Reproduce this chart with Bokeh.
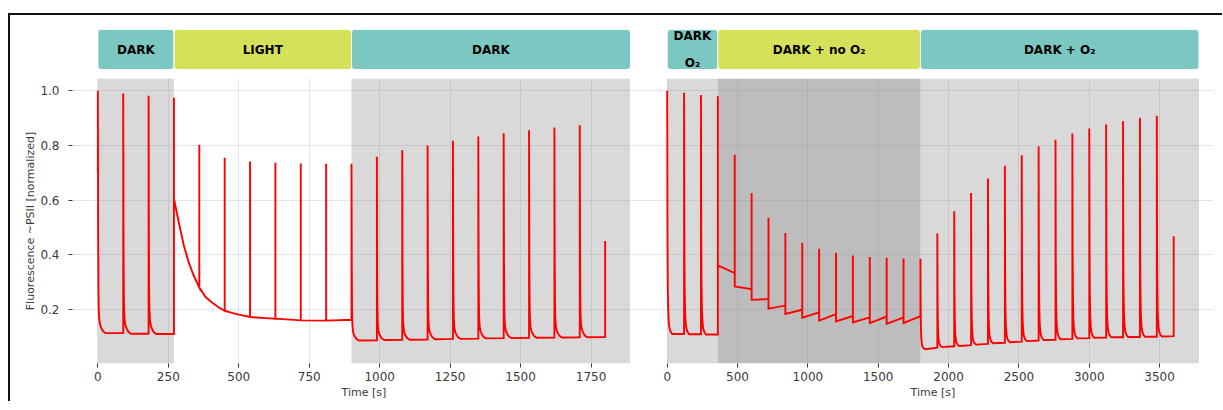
from bokeh.plotting import figure
from bokeh.layouts import row, column
from bokeh.models import Range1d, FixedTicker, ColumnDataSource, Title, PrintfTickFormatter
from bokeh.embed import file_html
from bokeh.resources import INLINE
from bokeh.core.properties import value

# ---------------- data: left panel (dark / light / dark) ----------------
pulse_t_L = [0, 90, 180, 270, 360, 450, 540, 630, 720, 810, 900, 990, 1080,
             1170, 1260, 1350, 1440, 1530, 1620, 1710, 1800]
peak_L = [1.000, 0.990, 0.982, 0.975, 0.803, 0.755, 0.741, 0.737, 0.734, 0.733,
          0.733, 0.759, 0.782, 0.800, 0.817, 0.833, 0.845, 0.856, 0.866, 0.874, 0.450]
pre_L = [0.700, 0.113, 0.111, 0.110, 0.280, 0.195, 0.172, 0.166, 0.160, 0.159,
         0.162, 0.087, 0.089, 0.090, 0.092, 0.093, 0.095, 0.096, 0.097, 0.098, 0.099]
post_L = [0.113, 0.111, 0.110, 0.605, 0.280, 0.195, 0.172, 0.166, 0.160, 0.159,
          0.086, 0.088, 0.089, 0.091, 0.092, 0.094, 0.095, 0.096, 0.097, 0.098, None]
kind_L = ["dark", "dark", "dark", "step", "step", "step", "step", "step", "step", "step",
          "dark", "dark", "dark", "dark", "dark", "dark", "dark", "dark", "dark", "dark", "end"]
light_curve_t = [287, 305, 322, 340, 382, 405, 429, 476, 500, 595]
light_curve_v = [0.519, 0.434, 0.373, 0.324, 0.245, 0.225, 0.207, 0.187, 0.181, 0.168]
decay_dt_L = [0, 1, 2, 3, 5, 8, 12, 18, 27]
decay_frac_L = [1, 0.40, 0.18, 0.10, 0.055, 0.035, 0.022, 0.008, 0]

regions_L_start = [0, 270, 900]
regions_L_end = [270, 900, 1890]
regions_L_label = ["DARK", "LIGHT", "DARK"]
xticks_L = [0, 250, 500, 750, 1000, 1250, 1500, 1750]

# ---------------- data: right panel (O2 experiment) ----------------
pulse_t_R = [0, 120, 240, 360, 480, 600, 720, 840, 960, 1080, 1200, 1320, 1440, 1560,
             1680, 1800, 1920, 2040, 2160, 2280, 2400, 2520, 2640, 2760, 2880, 3000,
             3120, 3240, 3360, 3480, 3600]
peak_R = [1.000, 0.993, 0.985, 0.980, 0.766, 0.626, 0.535, 0.480, 0.444, 0.422, 0.407,
          0.397, 0.392, 0.389, 0.386, 0.385, 0.478, 0.559, 0.626, 0.679, 0.726, 0.764,
          0.797, 0.821, 0.844, 0.862, 0.877, 0.889, 0.901, 0.909, 0.468]
pre_R = [1.000, 0.110, 0.109, 0.108, 0.333, 0.274, 0.238, 0.214, 0.199, 0.189, 0.183,
         0.176, 0.171, 0.174, 0.171, 0.175, 0.060, 0.065, 0.069, 0.074, 0.078, 0.082,
         0.086, 0.089, 0.092, 0.095, 0.097, 0.098, 0.099, 0.100, 0.102]
post_R = [0.110, 0.109, 0.108, 0.361, 0.284, 0.235, 0.203, 0.183, 0.170, 0.159, 0.156,
          0.152, 0.150, 0.147, 0.150, 0.054, 0.062, 0.066, 0.071, 0.076, 0.080, 0.084,
          0.088, 0.091, 0.094, 0.096, 0.098, 0.099, 0.100, 0.101, None]
kind_R = ["dark", "dark", "dark"] + ["step"] * 12 + ["dark"] * 15 + ["end"]
decay_dt_R = [0, 2, 4, 7, 11, 16, 24, 36]
decay_frac_R = [1, 0.40, 0.20, 0.10, 0.05, 0.025, 0.01, 0]

regions_R_start = [0, 360, 1800]
regions_R_end = [360, 1800, 3780]
regions_R_label = ["DARK\nO\u2082", "DARK + no O\u2082", "DARK + O\u2082"]
xticks_R = [0, 500, 1000, 1500, 2000, 2500, 3000, 3500]

yticks = [0.2, 0.4, 0.6, 0.8, 1.0]

# ---------------- styles ----------------
TEAL = "#7bc8c2"
YELLOW = "#d6e15a"
header_colors_L = [TEAL, YELLOW, TEAL]
header_colors_R = [TEAL, YELLOW, TEAL]
shade_alpha_L = [0.3, 0.0, 0.3]
shade_alpha_R = [0.3, 0.52, 0.3]
GRID = "#e4e4ee"
TXT = "#3a3a3a"
FONT = "DejaVu Sans"
Y0, Y1 = 0.002, 1.045


def build_trace(pt, pk, pre, post, kind, ddt, dfrac, extra_t=(), extra_v=()):
    xs, ys = [], []
    n = len(pt)
    for i in range(n):
        t = pt[i]
        xs += [t, t]
        ys += [pre[i], pk[i]]
        if kind[i] == "dark":
            for dt, f in zip(ddt[1:], dfrac[1:]):
                xs.append(t + dt)
                ys.append(post[i] + (pk[i] - post[i]) * f)
        elif kind[i] == "step":
            xs.append(t)
            ys.append(post[i])
        if i + 1 < n:
            for et, ev in zip(extra_t, extra_v):
                if t < et < pt[i + 1]:
                    xs.append(et)
                    ys.append(ev)
    return xs, ys


def make_header(width, x_range, min_left, min_right, starts, ends, labels, colors):
    h = figure(width=width, height=54, x_range=x_range, y_range=Range1d(0, 1),
               output_backend="svg", toolbar_location=None,
               min_border_left=min_left, min_border_right=min_right,
               min_border_top=14, min_border_bottom=0,
               x_axis_location=None, y_axis_location=None)
    h.outline_line_color = None
    h.grid.visible = False
    h.background_fill_color = "white"
    h.border_fill_color = "white"
    src = ColumnDataSource(dict(left=starts, right=ends, color=colors, label=labels,
                                mid=[(a + b) / 2 for a, b in zip(starts, ends)]))
    h.quad(left="left", right="right", bottom=0, top=1, fill_color="color",
           line_color="white", line_width=1, border_radius=3, source=src)
    h.text(x="mid", y=0.5, text="label", source=src, text_align="center",
           text_baseline="middle", text_font=value(FONT), text_font_style="bold",
           text_font_size="12px", text_color="black", text_line_height=1.95)
    return h


def make_panel(width, x_range, min_left, min_right, starts, ends, salpha, xticks,
               trace_xy, show_y, title_offset):
    p = figure(width=width, height=332, x_range=x_range, y_range=Range1d(Y0, Y1),
               output_backend="svg", toolbar_location=None,
               min_border_left=min_left, min_border_right=min_right,
               min_border_top=9, min_border_bottom=38,
               y_axis_location="left" if show_y else None)
    p.outline_line_color = None
    p.background_fill_color = "white"
    p.border_fill_color = "white"
    p.xgrid.ticker = FixedTicker(ticks=xticks)
    p.ygrid.ticker = FixedTicker(ticks=yticks)
    p.grid.grid_line_color = GRID
    p.grid.grid_line_width = 1

    # shaded condition regions (drawn over the grid, like translucent spans)
    p.quad(left=starts, right=ends, bottom=[Y0] * 3, top=[Y1] * 3,
           fill_color="#808080", fill_alpha=salpha, line_color=None)

    # fluorescence trace
    xs, ys = trace_xy
    p.line(xs, ys, line_color="#ff0000", line_width=1.9, line_join="miter")

    # x axis
    p.xaxis.ticker = FixedTicker(ticks=xticks)
    p.xaxis.axis_line_color = None
    p.xaxis.major_tick_out = 4
    p.xaxis.major_tick_in = 0
    p.xaxis.minor_tick_line_color = None
    p.xaxis.major_tick_line_color = TXT
    p.xaxis.major_label_text_font = FONT
    p.xaxis.major_label_text_font_size = "12px"
    p.xaxis.major_label_text_color = TXT
    p.xaxis.major_label_standoff = 4
    p.add_layout(Title(text="Time [s]", align="left", offset=title_offset, standoff=0,
                       text_font=FONT, text_font_size="11px", text_font_style="normal",
                       text_color=TXT), "below")
    if show_y:
        p.yaxis.ticker = FixedTicker(ticks=yticks)
        p.yaxis.formatter = PrintfTickFormatter(format="%.1f")
        p.yaxis.axis_line_color = None
        p.yaxis.major_tick_out = 4
        p.yaxis.major_tick_in = 0
        p.yaxis.minor_tick_line_color = None
        p.yaxis.major_tick_line_color = TXT
        p.yaxis.major_label_text_font = FONT
        p.yaxis.major_label_text_font_size = "12px"
        p.yaxis.major_label_text_color = TXT
        p.yaxis.major_label_standoff = 9
        p.yaxis.axis_label = "Fluorescence ~PSII [normalized]"
        p.yaxis.axis_label_text_font = FONT
        p.yaxis.axis_label_text_font_size = "11px"
        p.yaxis.axis_label_text_font_style = "normal"
        p.yaxis.axis_label_text_color = TXT
        p.yaxis.axis_label_standoff = 0
    return p


trace_L = build_trace(pulse_t_L, peak_L, pre_L, post_L, kind_L, decay_dt_L, decay_frac_L,
                      light_curve_t, light_curve_v)
trace_R = build_trace(pulse_t_R, peak_R, pre_R, post_R, kind_R, decay_dt_R, decay_frac_R)

xr_L = Range1d(-90, 1890)
xr_R = Range1d(-260.8, 3883)

h1 = make_header(620, xr_L, 62, 0, regions_L_start, regions_L_end, regions_L_label,
                 header_colors_L)
h2 = make_header(592, xr_R, 0, 9, regions_R_start, regions_R_end, regions_R_label,
                 header_colors_R)
p1 = make_panel(620, xr_L, 62, 0, regions_L_start, regions_L_end, shade_alpha_L, xticks_L,
                trace_L, True, 269)
p2 = make_panel(592, xr_R, 0, 9, regions_R_start, regions_R_end, shade_alpha_R, xticks_R,
                trace_R, False, 280)

layout = column(row(h1, h2), row(p1, p2), margin=(13, 0, 0, 8),
                styles={"border-top": "2px solid #111", "border-left": "2px solid #111"})

open("out.html", "w").write(file_html(layout, INLINE))
